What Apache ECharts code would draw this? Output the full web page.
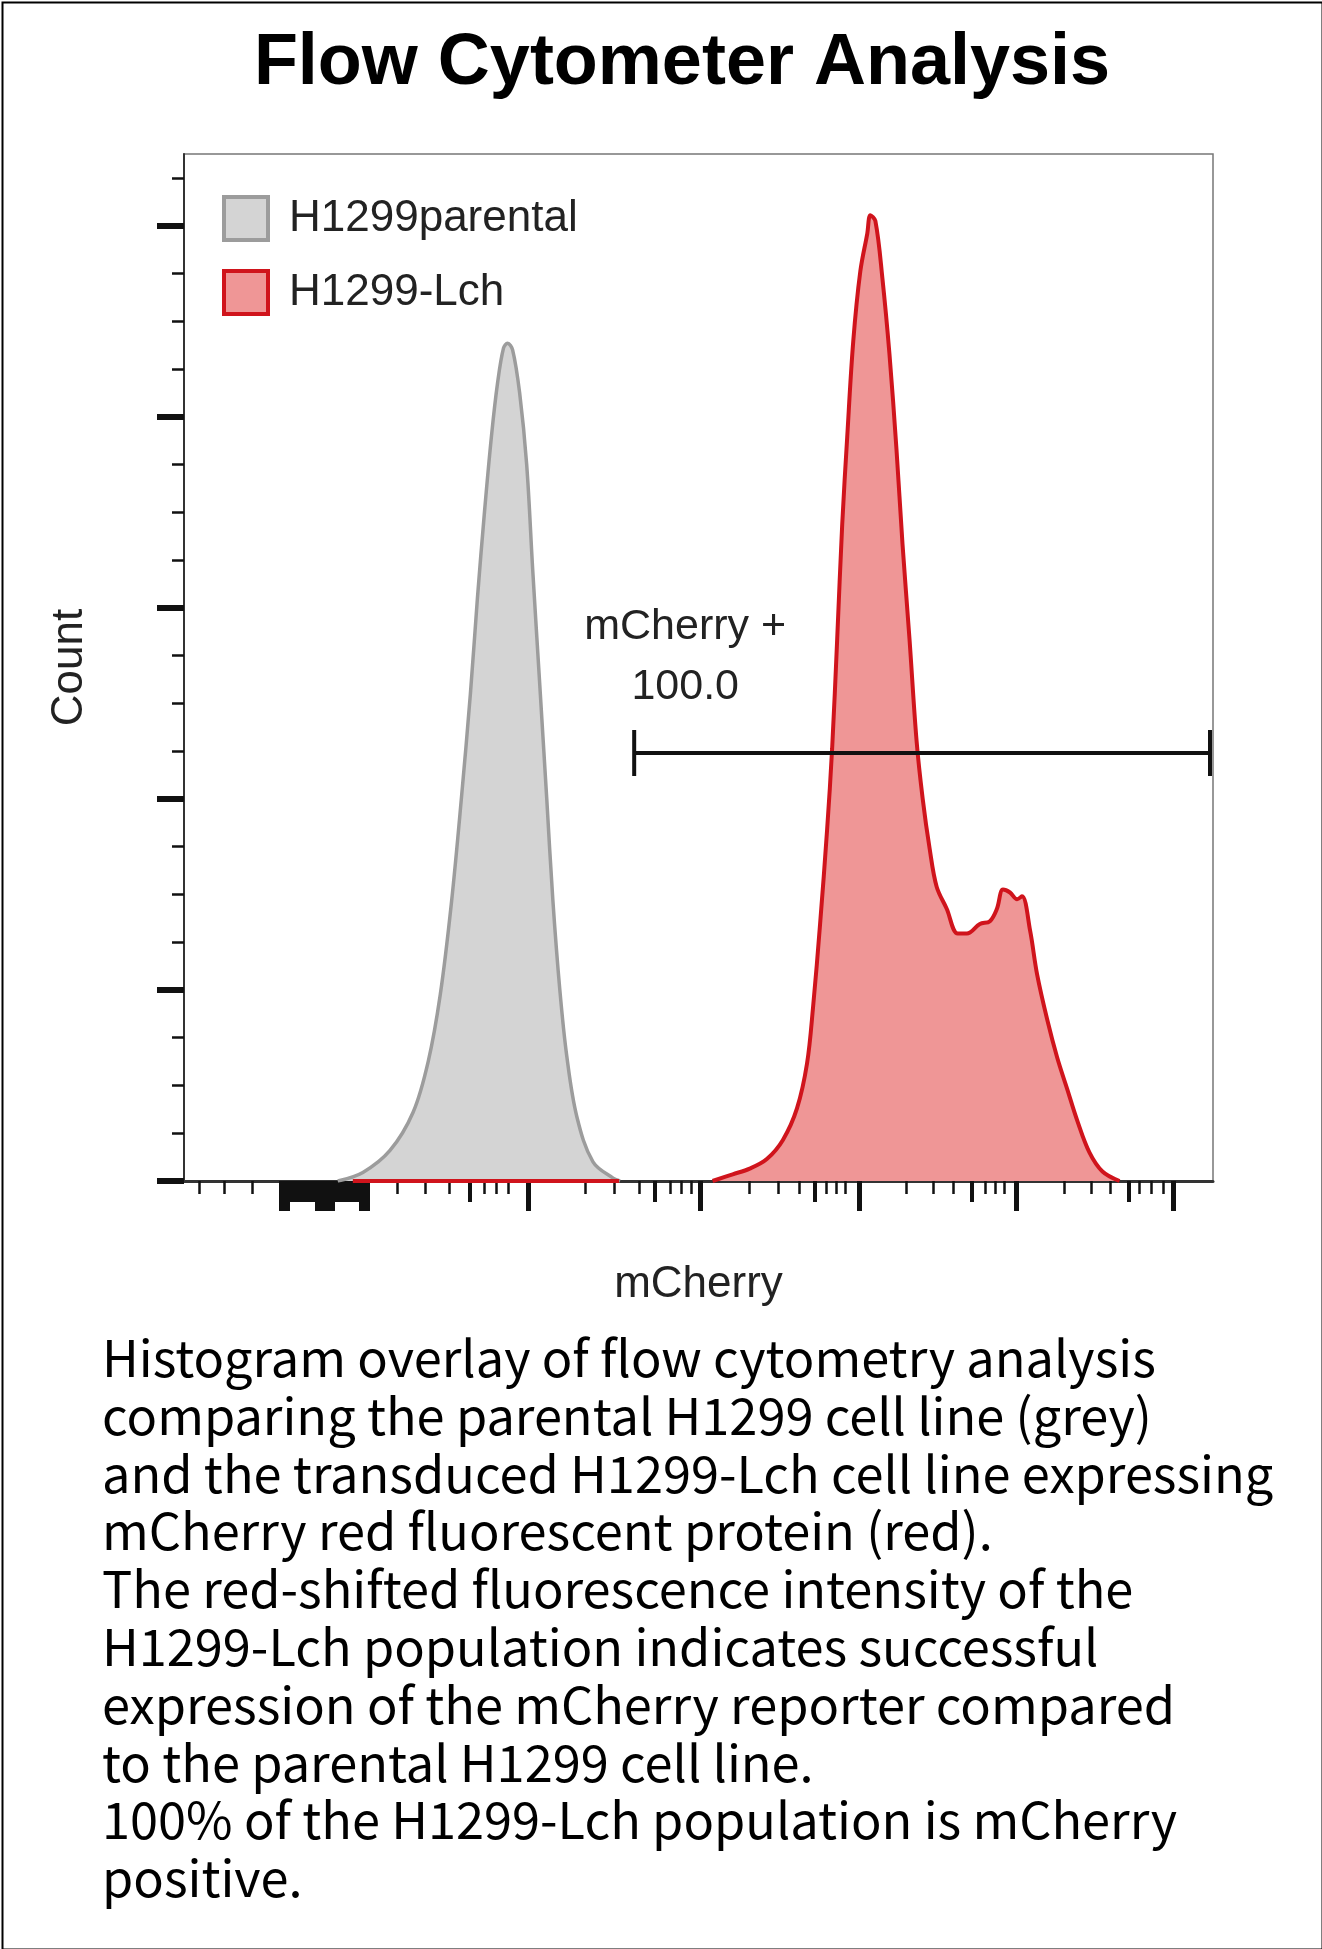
<!doctype html>
<html>
<head>
<meta charset="utf-8">
<title>Flow Cytometer Analysis</title>
<script src="https://cdn.jsdelivr.net/npm/echarts@6/dist/echarts.min.js"></script>
<style>
  html, body { margin: 0; padding: 0; background: #fff; }
  #main { width: 1322px; height: 1949px; }
</style>
</head>
<body>
<div id="main"></div>
<script>
  // x is in display channels (0-1024, biexponential FlowJo scale), y is count
  var greyX = [153, 178, 205, 228, 243, 255, 266, 276, 285, 292, 299, 306, 312, 318, 322, 327,
               334, 341, 347, 354, 361, 367, 374, 381, 391, 407, 427, 434];
  var greyY = [0, 9, 32, 72, 125, 195, 290, 400, 510, 610, 700, 780, 835, 872, 877, 870,
               825, 750, 640, 520, 400, 295, 200, 130, 67, 20, 3, 0];

  var redBaseX = [168, 433];
  var redBaseY = [0, 0];
  var redX = [526, 546, 563, 580, 596, 610, 620, 626, 633, 640, 645, 650, 655, 660, 666, 673,
              680, 683, 688, 695, 702, 709, 715, 722, 729, 735, 742, 749, 759, 770, 779, 792,
              802, 809, 815, 822, 829, 834, 842, 849, 859, 869, 879, 889, 901, 914, 931];
  var redY = [0, 7, 13, 23, 43, 76, 123, 182, 269, 368, 453, 567, 687, 779, 879, 952,
              992, 1011, 1005, 945, 866, 766, 667, 567, 461, 401, 348, 308, 285, 259, 259, 269,
              272, 285, 305, 302, 295, 298, 262, 216, 169, 129, 96, 63, 30, 10, 0];

  // tick positions on the x axis (channels)
  var xMajorTicks = [96.5, 99.5, 102.5, 133, 137, 141, 145, 148, 176, 179, 182, 343, 514, 672, 828, 984];
  var xMidTicks = [106, 110, 114, 118, 122, 126, 130, 152, 156, 160, 164, 168, 172, 284, 468, 628, 784, 940];
  var xMinorTicks = [15, 40, 68, 212, 240, 264, 299, 311, 323, 399, 428, 453, 484, 495, 505,
                     563, 591, 612, 639, 649, 658, 719, 746, 766, 797, 807, 816,
                     876, 903, 922, 951, 963, 974];
  var yMajorTicks = [0, 200, 400, 600, 800, 1000];
  var yMinorTicks = [50, 100, 150, 250, 300, 350, 450, 500, 550, 650, 700, 750, 850, 900, 950, 1050];

  var gateRange = [448, 1021];
  var gateLevel = 448;
  var gateLabel = ['mCherry +', '100.0'];

  var captionLines = [
    'Histogram overlay of flow cytometry analysis',
    'comparing the parental H1299 cell line (grey)',
    'and the transduced H1299-Lch cell line expressing',
    'mCherry red fluorescent protein (red).',
    'The red-shifted fluorescence intensity of the',
    'H1299-Lch population indicates successful',
    'expression of the mCherry reporter compared',
    'to the parental H1299 cell line.',
    '100% of the H1299-Lch population is mCherry',
    'positive.'
  ];

  function pairs(xs, ys) {
    return xs.map(function (x, i) { return [x, ys[i]]; });
  }

  var greyData = pairs(greyX, greyY);
  var redData = pairs(redBaseX, redBaseY).concat(['-']).concat(pairs(redX, redY));

  var font = 'Liberation Sans, Arial, sans-serif';
  var xMax = 1024, yMax = 1075;

  function xAxisWith(ticks, len, width, extra) {
    var ax = {
      type: 'value', min: 0, max: xMax, position: 'bottom',
      axisLine: { show: false },
      axisLabel: { show: false },
      splitLine: { show: false },
      axisTick: { show: true, customValues: ticks, length: len,
                  lineStyle: { color: '#111', width: width } }
    };
    return Object.assign(ax, extra || {});
  }
  function yAxisWith(ticks, len, width, extra) {
    var ax = {
      type: 'value', min: 0, max: yMax, position: 'left',
      axisLine: { show: false },
      axisLabel: { show: false },
      splitLine: { show: false },
      axisTick: { show: true, customValues: ticks, length: len,
                  lineStyle: { color: '#111', width: width } }
    };
    return Object.assign(ax, extra || {});
  }

  var chart = echarts.init(document.getElementById('main'), null, { renderer: 'canvas' });

  var option = {
    animation: false,
    backgroundColor: '#fff',
    title: {
      text: 'Flow Cytometer Analysis',
      left: 682, top: 28, textAlign: 'center', padding: 0,
      textStyle: { fontFamily: font, fontWeight: 'bold', fontSize: 72, lineHeight: 72, color: '#000' }
    },
    legend: {
      orient: 'vertical', left: 217, top: 190,
      itemWidth: 44, itemHeight: 43, itemGap: 27,
      textStyle: { fontFamily: font, fontSize: 44, lineHeight: 44, color: '#222', padding: [0, 0, 0, 16] },
      data: [
        { name: 'H1299parental', icon: 'rect',
          itemStyle: { color: '#d4d4d4', borderColor: '#9c9c9c', borderWidth: 4 } },
        { name: 'H1299-Lch', icon: 'rect',
          itemStyle: { color: '#ef9696', borderColor: '#d0141c', borderWidth: 4 } }
      ]
    },
    grid: {
      left: 184, right: 109, top: 154, bottom: 768,
      show: true, borderColor: '#777', borderWidth: 1.5, backgroundColor: '#fff'
    },
    xAxis: [
      xAxisWith(xMajorTicks, 30, 5, {
        axisLine: { show: true, lineStyle: { color: '#333', width: 3 } },
        name: 'mCherry', nameLocation: 'middle', nameGap: 82,
        nameTextStyle: { fontFamily: font, fontSize: 44, color: '#222' }
      }),
      xAxisWith(xMidTicks, 21, 4),
      xAxisWith(xMinorTicks, 13, 2.5)
    ],
    yAxis: [
      yAxisWith(yMajorTicks, 27, 6, {
        axisLine: { show: true, lineStyle: { color: '#333', width: 2 } },
        name: 'Count', nameLocation: 'middle', nameGap: 92,
        nameTextStyle: { fontFamily: font, fontSize: 44, color: '#222' }
      }),
      yAxisWith(yMinorTicks, 12, 2.5)
    ],
    series: [
      {
        name: 'H1299parental', type: 'line', xAxisIndex: 0, yAxisIndex: 0,
        data: greyData, showSymbol: false, smooth: 0.35,
        lineStyle: { color: '#9c9c9c', width: 3.5 },
        itemStyle: { color: '#d4d4d4' },
        areaStyle: { color: '#d4d4d4', opacity: 1 },
        z: 2
      },
      {
        name: 'H1299-Lch', type: 'line', xAxisIndex: 0, yAxisIndex: 0,
        data: redData, showSymbol: false, smooth: 0.35, connectNulls: false,
        lineStyle: { color: '#d0141c', width: 4 },
        itemStyle: { color: '#ef9696' },
        areaStyle: { color: '#ef9696', opacity: 1 },
        z: 3
      },
      {
        type: 'custom', xAxisIndex: 0, yAxisIndex: 0, clip: false, z: 5,
        data: [[gateRange[0], gateRange[1], gateLevel]],
        renderItem: function (params, api) {
          var a = api.coord([api.value(0), api.value(2)]);
          var b = api.coord([api.value(1), api.value(2)]);
          var ls = { stroke: '#111', lineWidth: 4 };
          return {
            type: 'group',
            children: [
              { type: 'line', shape: { x1: a[0], y1: a[1], x2: b[0], y2: b[1] }, style: ls },
              { type: 'line', shape: { x1: a[0], y1: a[1] - 23, x2: a[0], y2: a[1] + 23 }, style: ls },
              { type: 'line', shape: { x1: b[0], y1: b[1] - 23, x2: b[0], y2: b[1] + 23 }, style: ls },
              { type: 'text', x: a[0] + 51, y: a[1] - 126,
                style: { text: gateLabel[0], font: '43px ' + font, fill: '#222',
                         textAlign: 'center', textVerticalAlign: 'middle' } },
              { type: 'text', x: a[0] + 51, y: a[1] - 66,
                style: { text: gateLabel[1], font: '43px ' + font, fill: '#222',
                         textAlign: 'center', textVerticalAlign: 'middle' } }
            ]
          };
        }
      }
    ],
    graphic: [
      {
        type: 'rect', left: 0, top: 0, silent: true, z: 100,
        shape: { x: 1, y: 1, width: 1320, height: 1947 },
        style: { fill: 'none', stroke: '#000', lineWidth: 2 }
      },
      {
        type: 'text', left: 102, top: 1329,
        style: {
          text: captionLines.join('\n'),
          font: '50.5px "Noto Sans CJK TC", "Noto Sans", sans-serif',
          lineHeight: 57.8, fill: '#000'
        }
      }
    ]
  };

  chart.setOption(option);
</script>
</body>
</html>
